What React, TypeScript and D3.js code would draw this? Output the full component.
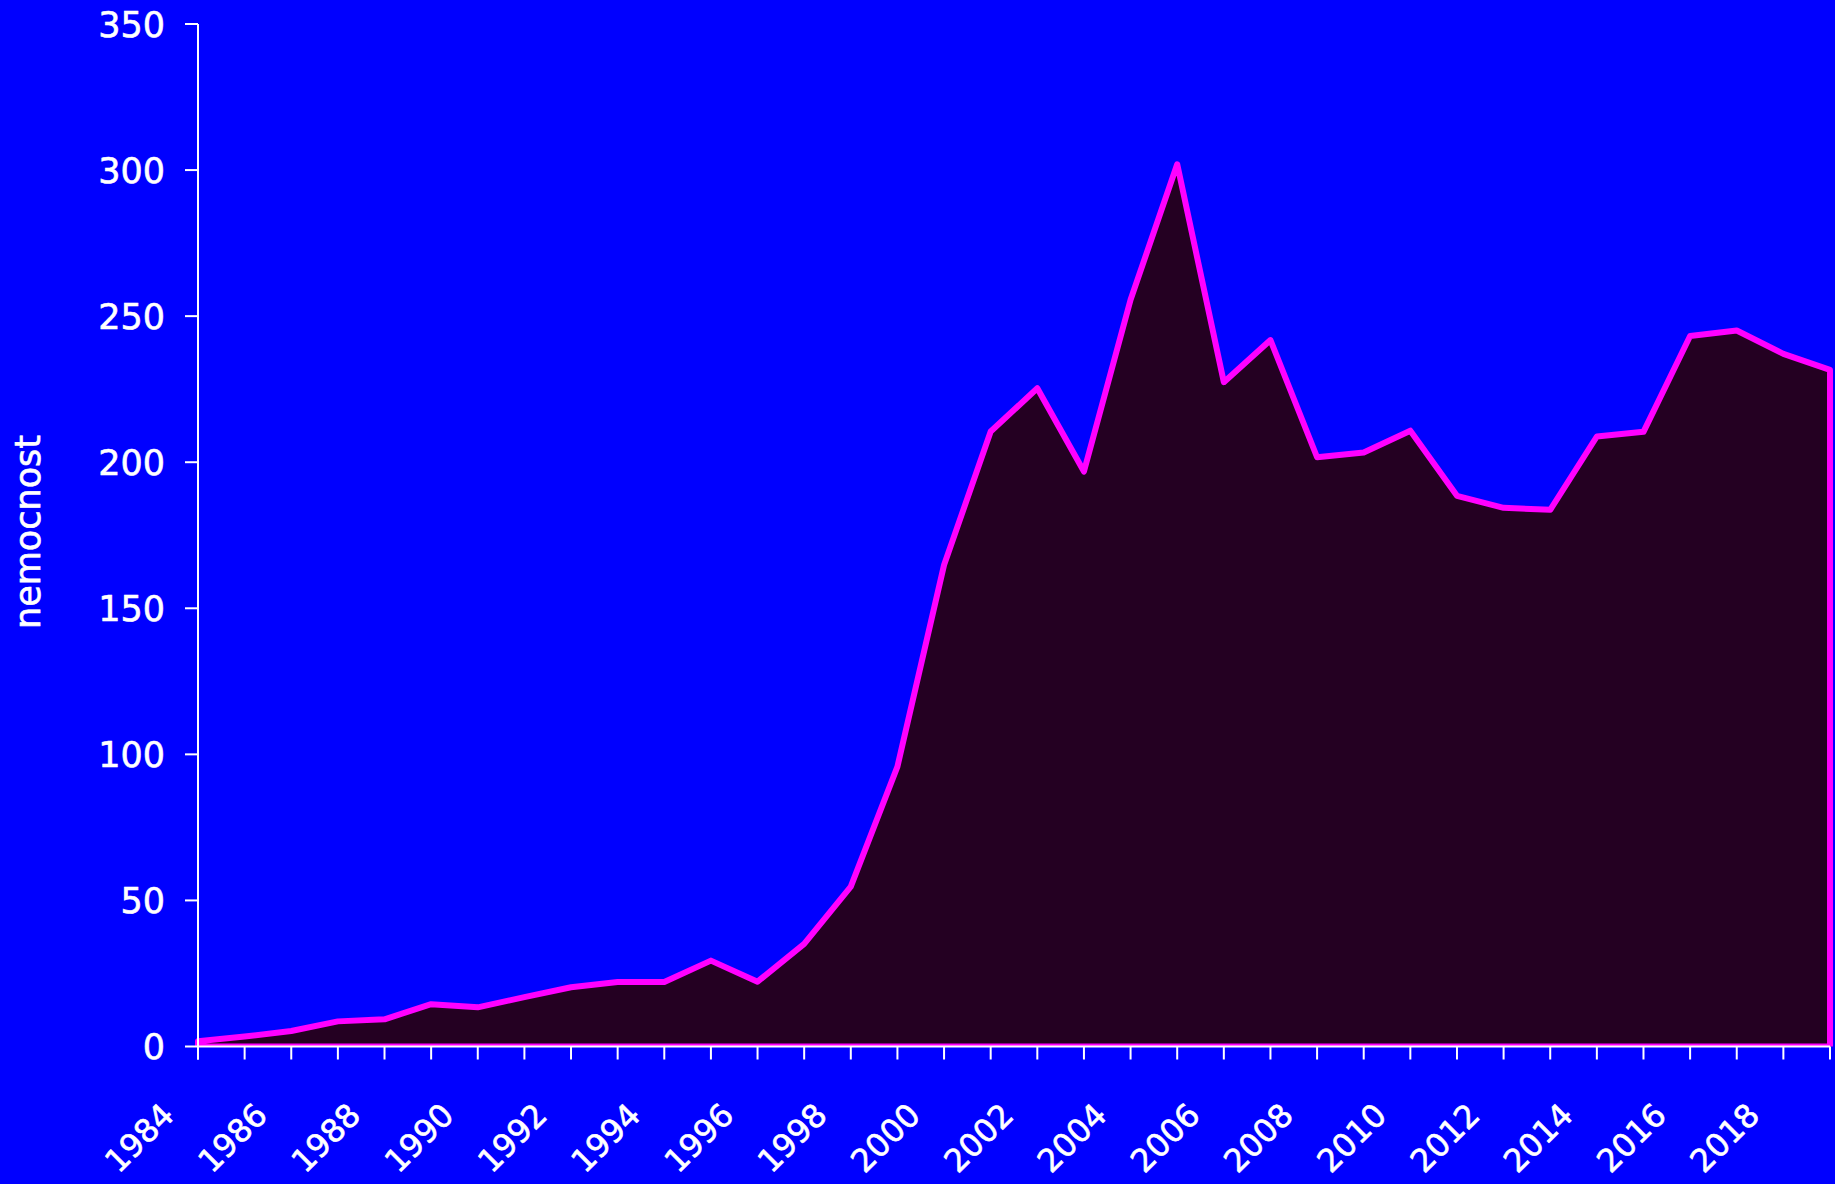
import React from "react";
import * as d3 from "d3";

const years: number[] = [
  1984, 1985, 1986, 1987, 1988, 1989, 1990, 1991, 1992, 1993, 1994, 1995,
  1996, 1997, 1998, 1999, 2000, 2001, 2002, 2003, 2004, 2005, 2006, 2007,
  2008, 2009, 2010, 2011, 2012, 2013, 2014, 2015, 2016, 2017, 2018, 2019,
];
const nemocnost: number[] = [
  1.8, 3.4, 5.3, 8.6, 9.3, 14.5, 13.4, 16.9, 20.3, 22.1, 22.1, 29.4,
  22.2, 35.1, 54.7, 95.8, 164.8, 210.5, 225.3, 196.8, 255.6, 302.0, 227.4, 241.8,
  201.7, 203.3, 210.8, 188.5, 184.4, 183.7, 208.8, 210.4, 243.2, 245.1, 237.1, 231.6,
];
const yTicks: number[] = [0, 50, 100, 150, 200, 250, 300, 350];
const xLabelYears: number[] = years.filter((y) => y % 2 === 0);
const yTitle = "nemocnost";

const W = 1835;
const H = 1184;
const FONT = "'Comic Sans MS', 'DejaVu Sans', sans-serif";

export default function App() {
  const x = d3.scaleLinear().domain([1984, 2019]).range([198, 1830]);
  const y = d3.scaleLinear().domain([0, 350]).range([1046.5, 24]);

  const data = years.map((yr, i) => ({ yr, v: nemocnost[i] }));
  const area = d3
    .area<{ yr: number; v: number }>()
    .x((d) => x(d.yr))
    .y0(() => y(0))
    .y1((d) => y(d.v));
  const areaPath = area(data) + "";

  const y0 = y(0);

  return (
    <svg
      width={W}
      height={H}
      style={{ position: "absolute", left: 0, top: 0, display: "block" }}
    >
      <defs>
        <clipPath id="plotclip">
          <rect x={150} y={0} width={W - 150 + 10} height={y0} />
        </clipPath>
      </defs>
      <rect x={0} y={0} width={W} height={H} fill="#0000FF" />

      <g clipPath="url(#plotclip)">
        <path
          d={areaPath}
          fill="#240022"
          stroke="#FF00FF"
          strokeWidth={6}
          strokeLinejoin="round"
          strokeLinecap="round"
        />
      </g>

      {/* Y axis */}
      <line x1={x(1984)} x2={x(1984)} y1={y(350)} y2={y0 + 13} stroke="#fff" strokeWidth={2} />
      {yTicks.map((t) => (
        <g key={t}>
          <line x1={x(1984) - 13} x2={x(1984)} y1={y(t)} y2={y(t)} stroke="#fff" strokeWidth={2} />
          <text
            x={165}
            y={y(t)}
            dy="0.36em"
            textAnchor="end"
            fill="#fff"
            stroke="#fff"
            strokeWidth={0.6}
            fontFamily={FONT}
            fontSize={35}
          >
            {t}
          </text>
        </g>
      ))}

      {/* X axis */}
      <line x1={x(1984)} x2={x(2019)} y1={y0} y2={y0} stroke="#fff" strokeWidth={2} />
      {years.map((yr) => (
        <line
          key={yr}
          x1={x(yr)}
          x2={x(yr)}
          y1={y0}
          y2={y0 + 13}
          stroke="#fff"
          strokeWidth={2}
        />
      ))}
      {xLabelYears.map((yr) => {
        const ax = x(yr) - 22;
        const ay = 1117;
        return (
          <text
            key={yr}
            x={ax}
            y={ay}
            textAnchor="end"
            fill="#fff"
            stroke="#fff"
            strokeWidth={0.6}
            fontFamily={FONT}
            fontSize={32}
            transform={`rotate(-45 ${ax} ${ay})`}
          >
            {yr}
          </text>
        );
      })}

      {/* Y title */}
      <text
        x={0}
        y={0}
        transform={`translate(40 532) rotate(-90)`}
        textAnchor="middle"
        fill="#fff"
        stroke="#fff"
        strokeWidth={0.6}
        fontFamily={FONT}
        fontSize={35}
      >
        {yTitle}
      </text>
    </svg>
  );
}
